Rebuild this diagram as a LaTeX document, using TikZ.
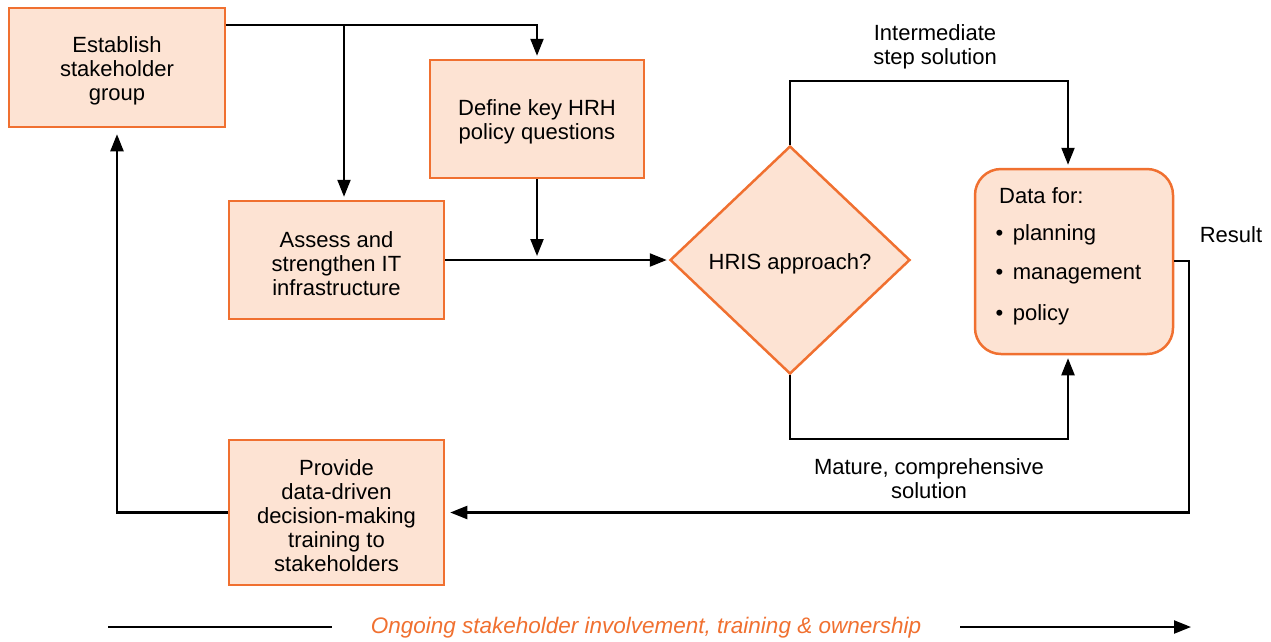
\documentclass[tikz,border=0pt]{standalone}
\usepackage{fontspec}
\setmainfont{Liberation Sans}
\usetikzlibrary{shapes.geometric,arrows.meta,calc}
\definecolor{peach}{HTML}{FDE3D3}
\definecolor{orng}{HTML}{F07030}
\tikzset{
  box/.style={draw=orng,fill=peach,line width=2.5pt,minimum width=215pt,minimum height=118pt,inner sep=0pt},
  txt/.style={align=center,font=\fontsize{22pt}{24pt}\selectfont,inner sep=0pt},
  lbl/.style={align=center,font=\fontsize{22pt}{24pt}\selectfont,inner sep=0pt},
  arr/.style={line width=2.2pt,-{Triangle[length=17pt 0,width=13pt 0]},shorten >=3pt},
  ln/.style={line width=2.2pt},
}
\begin{document}
\begin{tikzpicture}[x=1pt,y=-1pt]
\useasboundingbox (0,0) rectangle (1271,641);
% boxes
\node[box,minimum width=216pt,minimum height=119pt] (est) at (117,67.5) {};
\node[txt] (estt) at (117,70.5) {Establish\\stakeholder\\group};
\node[box,minimum width=214pt,minimum height=118pt] (def) at (537,119) {};
\node[txt] (deft) at (537,122) {Define key HRH\\policy questions};
\node[box,minimum width=215pt,minimum height=118pt] (ass) at (336.5,260) {};
\node[txt] (asst) at (336.5,263.5) {Assess and\\strengthen IT\\infrastructure};
\node[box,minimum width=215pt,minimum height=145pt] (pro) at (336.5,512.5) {};
\node[txt] (prot) at (336.5,515.5) {Provide\\data-driven\\decision-making\\training to\\stakeholders};
\node[draw=orng,fill=peach,line width=2.5pt,diamond,minimum width=240pt,minimum height=228pt,inner sep=0pt] (dia) at (790,260) {};
\node[txt] (diat) at (790,264) {HRIS approach?};
\node[draw=orng,fill=peach,line width=2.5pt,rounded corners=26pt,minimum width=198pt,minimum height=185pt,inner sep=0pt] (data) at (1074,261.5) {};
\node[txt,anchor=west] (d0) at (999,195.5) {Data for:};
\node[txt,anchor=west] (d1) at (995.5,235) {\textbullet\hspace{9.5pt}planning};
\node[txt,anchor=west] (d2) at (995.5,275) {\textbullet\hspace{9.5pt}management};
\node[txt,anchor=west] (d3) at (995.5,315) {\textbullet\hspace{9.5pt}policy};
% labels
\node[lbl] (l1) at (935,46.5) {Intermediate\\step solution};
\node[lbl] (l2) at (1231,235) {Result};
\node[lbl] (l3) at (929,479) {Mature, comprehensive\\solution};
\node[lbl,text=orng,font=\fontsize{22.5pt}{24pt}\selectfont\itshape] (l4) at (646,628) {Ongoing stakeholder involvement, training \& ownership};
% junction coordinates
\coordinate (j1) at (344,25);
\coordinate (j2) at (537,259);
\coordinate (ct) at (1068,81);
\coordinate (cb) at (1068,439);
\coordinate (er) at (1189,261);
\coordinate (b1) at (108,627);
\coordinate (b2) at (332,627);
\coordinate (b3) at (960,627);
\coordinate (b4) at (1191,627);
% connectors
\draw[arr] (est.east |- j1) -| (def.north);
\draw[arr] (j1) -- (j1 |- ass.north);
\draw[arr] (def.south) -- (j2);
\draw[arr,shorten >=2pt] (ass.east) -- (dia.west);
\draw[arr] (dia.north) |- (ct) -- (ct |- data.north);
\draw[arr] (dia.south) |- (cb) -- (cb |- data.south);
\draw[arr,shorten >=5pt] (data.east |- er) -- (er) |- (pro.east);
\draw[arr,shorten >=6pt] (pro.west) -| (est.south);
\draw[ln] (b1) -- (b2);
\draw[arr,shorten >=0pt] (b3) -- (b4);
\end{tikzpicture}
\end{document}
